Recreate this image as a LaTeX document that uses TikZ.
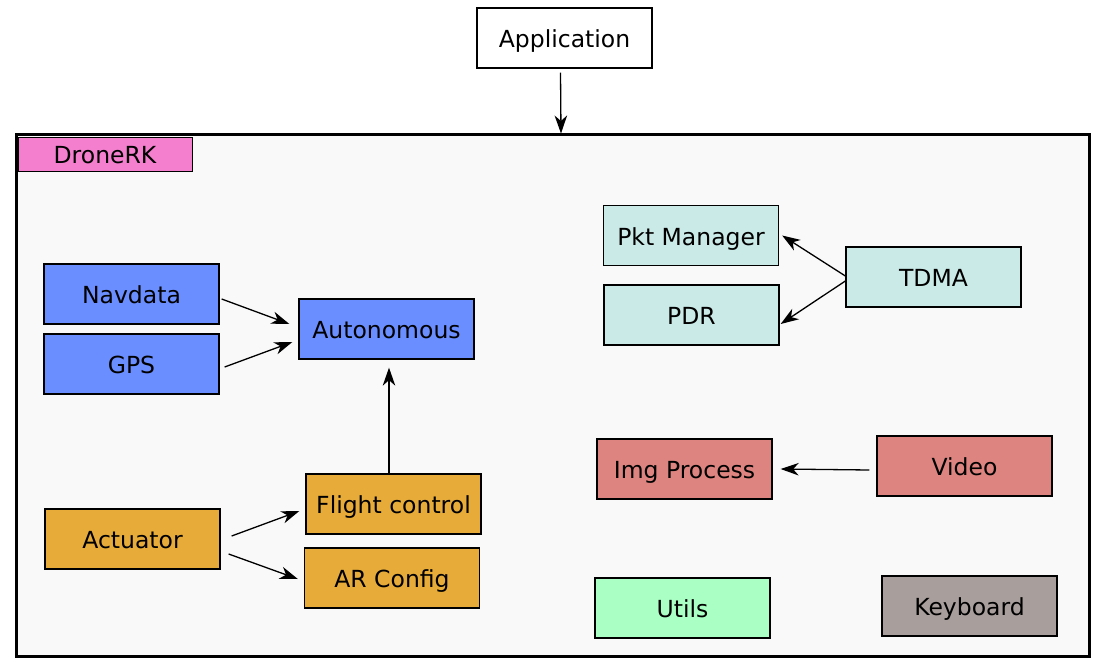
\documentclass[tikz,border=0pt]{standalone}
\usepackage{fontspec}
\setmainfont{DejaVu Sans}
\usetikzlibrary{arrows.meta,calc}
\definecolor{bgc}{RGB}{249,249,249}
\definecolor{pinkc}{RGB}{244,127,206}
\definecolor{bluec}{RGB}{106,142,255}
\definecolor{cyanc}{RGB}{201,234,231}
\definecolor{redc}{RGB}{221,132,128}
\definecolor{orangec}{RGB}{230,171,57}
\definecolor{greenc}{RGB}{170,255,196}
\definecolor{grayc}{RGB}{168,158,156}
\tikzset{
  box/.style={draw=black, line width=1.3pt, minimum width=175pt, minimum height=60pt, inner sep=0pt, text height=21pt, text depth=2pt, font=\fontsize{23.5}{28}\selectfont},
  conn/.style={line width=1.3pt, -{Stealth[length=18pt,width=12.5pt,inset=5.5pt]}}
}
\begin{document}
\begin{tikzpicture}[x=1pt,y=-1pt]
\useasboundingbox (0,0) rectangle (1105,666);
\fill[white] (0,0) rectangle (1105,666);
% container
\node[draw=black, line width=3pt, fill=bgc, minimum width=1073pt, minimum height=521pt, inner sep=0pt] (drk) at (552.5,395.5) {};
\node[box, fill=pinkc, minimum width=174pt, minimum height=33pt, line width=1pt, text height=19pt] (lbl) at (105,154.5) {DroneRK};
% boxes
\node[box, fill=white] (app) at (564.5,38) {Application};
\node[box, fill=bluec] (nav) at (131.5,294) {Navdata};
\node[box, fill=bluec] (gps) at (131.5,364) {GPS};
\node[box, fill=bluec] (auto) at (386.5,329) {Autonomous};
\node[box, fill=cyanc] (pkt) at (691,235.5) {Pkt Manager};
\node[box, fill=cyanc] (pdr) at (691.5,315) {PDR};
\node[box, fill=cyanc] (tdma) at (933.5,277) {TDMA};
\node[box, fill=redc] (img) at (684.5,469) {Img Process};
\node[box, fill=redc] (vid) at (964.5,466) {Video};
\node[box, fill=orangec] (fc) at (393.5,504) {Flight control};
\node[box, fill=orangec] (arc) at (392,578) {AR Config};
\node[box, fill=orangec] (act) at (132.5,539) {Actuator};
\node[box, fill=greenc] (utl) at (682.5,608) {Utils};
\node[box, fill=grayc] (kbd) at (969.5,606) {Keyboard};
% connectors
\draw[conn] ($(app.south)+(-4,4)$) -- ($(drk.north)+(8.5,0)$);
\draw[conn] ($(nav.east)+(2,5)$) -- ($(auto.west)+(-9,-5)$);
\draw[conn] ($(gps.east)+(5,3)$) -- ($(auto.west)+(-6,13)$);
\draw[conn] (fc.north -| auto.south) ++(2.5,0) -- ($(auto.south)+(2.5,8)$);
\draw[conn] ($(act.east)+(11,-3)$) -- ($(fc.west)+(-6,7)$);
\draw[conn] ($(act.east)+(8,15)$) -- ($(arc.west)+(-6,1)$);
\draw[conn] ($(tdma.west)+(0,-1)$) -- ($(pkt.east)+(3,0)$);
\draw[conn] ($(tdma.west)+(0,4)$) -- ($(pdr.east)+(1,9)$);
\draw[conn] ($(vid.west)+(-7,4)$) -- ($(img.east)+(8,0)$);
\end{tikzpicture}
\end{document}
